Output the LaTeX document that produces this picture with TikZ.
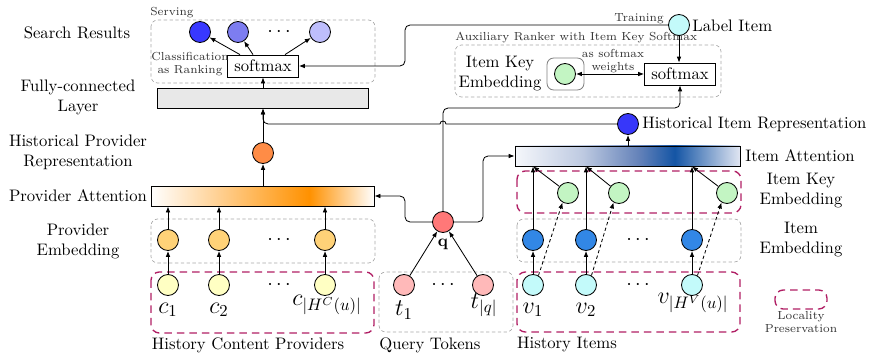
\documentclass[tikz,border=0pt]{standalone}
\usetikzlibrary{arrows.meta}
\definecolor{resA}{RGB}{56,56,255}
\definecolor{resB}{RGB}{125,125,240}
\definecolor{resC}{RGB}{190,190,252}
\definecolor{hirC}{RGB}{55,55,250}
\definecolor{hprC}{RGB}{255,140,70}
\definecolor{pembC}{RGB}{255,210,120}
\definecolor{cprovC}{RGB}{255,255,195}
\definecolor{qC}{RGB}{255,120,120}
\definecolor{tC}{RGB}{255,185,185}
\definecolor{iembC}{RGB}{50,135,230}
\definecolor{icyanC}{RGB}{195,250,250}
\definecolor{kgreenC}{RGB}{195,245,195}
\definecolor{fcC}{RGB}{232,232,232}
\definecolor{reddC}{RGB}{176,30,100}
\definecolor{provO}{RGB}{255,145,0}
\definecolor{itemB}{RGB}{20,85,165}
\definecolor{itemL}{RGB}{245,247,251}
\definecolor{itemM}{RGB}{190,202,225}
\definecolor{itemN}{RGB}{100,130,185}
\definecolor{itemR}{RGB}{225,230,242}
\pgfdeclarehorizontalshading{provshade}{100bp}{color(0bp)=(white); color(25bp)=(white); color(60.5bp)=(provO); color(75bp)=(white); color(100bp)=(white)}
\pgfdeclarehorizontalshading{itemshade}{100bp}{color(0bp)=(itemL); color(25bp)=(itemL); color(40bp)=(itemM); color(52.5bp)=(itemN); color(60.5bp)=(itemB); color(75bp)=(itemR); color(100bp)=(itemR)}
\tikzset{
  nd/.style={circle, draw, line width=0.5pt, minimum size=12.6pt, inner sep=0pt},
  arr/.style={-{Latex[length=3.6pt,width=2.8pt]}, line width=0.5pt},
  arrboth/.style={{Latex[length=3.6pt,width=2.8pt]}-{Latex[length=3.6pt,width=2.8pt]}, line width=0.5pt},
  rbox/.style={draw=reddC, line width=0.8pt, dash pattern=on 4.5pt off 3pt, rounded corners=5pt},
  gbox/.style={draw=gray!70, line width=0.4pt, dash pattern=on 2pt off 1.5pt, rounded corners=4pt},
  lbl/.style={align=center, inner sep=0pt},
  small/.style={align=center, inner sep=0pt, font=\scriptsize, text=black!80},
  smbox/.style={draw, line width=0.5pt, inner sep=3pt, minimum height=12pt, minimum width=42.6pt},
  barbox/.style={draw, line width=0.5pt, inner sep=0pt},
  dotsn/.style={inner sep=0pt, font=\large}
}
\begin{document}
\begin{tikzpicture}[x=0.6pt,y=-0.6pt]
\useasboundingbox (0,0) rectangle (873,353);

% ---------- frames ----------
\draw[gbox] (151,20) rectangle (375,83);
\draw[gbox] (455,45) rectangle (721,97);
\draw[draw=gray, line width=0.5pt, rounded corners=4pt] (547,58) rectangle (584,90);
\draw[gbox] (151,219) rectangle (375,263);
\draw[gbox] (379,272) rectangle (513,332);
\draw[gbox] (517,219) rectangle (741,262);
\draw[rbox] (151,272) rectangle (374,333);
\draw[rbox] (517,272) rectangle (740,332);
\draw[rbox] (517,171) rectangle (741,213);
\draw[rbox] (775,290) rectangle (827,309);

% ---------- left labels ----------
\node[lbl] (tsr) at (77,33) {Search Results};
\node[lbl] (tfc) at (78,97) {Fully-connected\\Layer};
\node[lbl] (thpr) at (78,152) {Historical Provider\\Representation};
\node[lbl] (tpa) at (78,196) {Provider Attention};
\node[lbl] (tpe) at (78,241) {Provider\\Embedding};

% ---------- serving ----------
\node[small, anchor=west] (tserv) at (150,13) {Serving};
\node[nd, fill=resA] (r1) at (200,32) {};
\node[nd, fill=resB] (r2) at (238,32) {};
\node[nd, fill=resC] (r3) at (320,32) {};
\node[dotsn] (rdots) at (279,32) {$\cdots$};
\node[smbox] (sm1) at (263,66) {softmax};
\node[small] (tcls) at (190,64) {Classification\\as Ranking};

\node[barbox, fill=fcC, minimum width=126.6pt, minimum height=12pt] (fc) at (262.5,98) {};
\node[nd, fill=hprC] (hpr) at (263,153) {};
\node[barbox, shading=provshade, minimum width=133.8pt, minimum height=12pt] (pa) at (262.5,196) {};

% provider embeddings
\node[nd, fill=pembC] (pe1) at (168,240) {};
\node[nd, fill=pembC] (pe2) at (219,240) {};
\node[nd, fill=pembC] (pe3) at (325,240) {};
\node[dotsn] (pedots) at (279,240) {$\cdots$};
\node[nd, fill=cprovC] (cp1) at (168,285) {};
\node[nd, fill=cprovC] (cp2) at (219,285) {};
\node[nd, fill=cprovC] (cp3) at (325,285) {};
\node[dotsn] (cpdots) at (279,285) {$\cdots$};
\node[inner sep=0pt, font=\Large] (lc1) at (168,310) {$c_1$};
\node[inner sep=0pt, font=\Large] (lc2) at (219,310) {$c_2$};
\node[inner sep=0pt, font=\Large] (lc3) at (327,305) {$c_{|H^C(u)|}$};
\node[lbl] (tcp) at (248,345) {History Content Providers};

% query
\node[nd, fill=qC] (q) at (443,222) {};
\node[inner sep=0pt] (lq) at (443,244) {$\mathbf{q}$};
\node[nd, fill=tC] (t1) at (404,285) {};
\node[nd, fill=tC] (tq) at (483,285) {};
\node[dotsn] (tdots) at (443,285) {$\cdots$};
\node[inner sep=0pt, font=\Large] (lt1) at (404,310) {$t_1$};
\node[inner sep=0pt, font=\Large] (ltq) at (484,305) {$t_{|q|}$};
\node[lbl] (tqt) at (430,345) {Query Tokens};

% items
\node[nd, fill=icyanC] (it1) at (533,285) {};
\node[nd, fill=icyanC] (it2) at (586,285) {};
\node[nd, fill=icyanC] (it3) at (692,285) {};
\node[dotsn] (itdots) at (638,285) {$\cdots$};
\node[nd, fill=iembC] (ie1) at (533,240) {};
\node[nd, fill=iembC] (ie2) at (586,240) {};
\node[nd, fill=iembC] (ie3) at (692,240) {};
\node[dotsn] (iedots) at (638,240) {$\cdots$};
\node[nd, fill=kgreenC] (gk1) at (568,193) {};
\node[nd, fill=kgreenC] (gk2) at (619,193) {};
\node[nd, fill=kgreenC] (gk3) at (727,193) {};
\node[inner sep=0pt, font=\Large] (lv1) at (533,310) {$v_1$};
\node[inner sep=0pt, font=\Large] (lv2) at (586,310) {$v_2$};
\node[inner sep=0pt, font=\Large] (lv3) at (693,303) {$v_{|H^V(u)|}$};
\node[lbl] (thi) at (567,345) {History Items};

\node[barbox, shading=itemshade, minimum width=135pt, minimum height=12pt] (ia) at (627.5,156) {};
\node[nd, fill=hirC] (hir) at (628,124) {};
\node[lbl, anchor=west] (thir) at (642,124) {Historical Item Representation};
\node[lbl, anchor=west] (tia) at (745,156) {Item Attention};
\node[lbl] (tke) at (801,191) {Item Key\\Embedding};
\node[lbl] (tie) at (801,240) {Item\\Embedding};
\node[small] (tloc) at (801,322) {Locality\\Preservation};

% auxiliary ranker
\node[small, anchor=west] (taux) at (455,38) {Auxiliary Ranker with Item Key Softmax};
\node[nd, fill=icyanC] (li) at (679,25) {};
\node[lbl, anchor=west] (tli) at (692,26) {Label Item};
\node[small, anchor=east] (ttr) at (664,19) {Training};
\node[lbl] (tike) at (500,74) {Item Key\\Embedding};
\node[nd, fill=kgreenC] (gk0) at (565,74) {};
\node[smbox] (sm2) at (680,74) {softmax};
\node[small] (tasw) at (613,61) {as softmax\\weights};

% ---------- connectors ----------
\foreach \i in {1,2,3}{
  \draw[arr] (cp\i) -- (pe\i);
  \draw[arr] (pe\i) -- (pe\i |- pa.south);
  \draw[arr] (it\i) -- (ie\i);
  \draw[arr] (ie\i) -- (ie\i |- ia.south);
  \draw[arr] (gk\i) -- (ie\i |- ia.south);
  \draw[arr, dash pattern=on 2pt off 1.5pt] (it\i.60) -- (gk\i.240);
}
\draw[arr] (hpr |- pa.north) -- (hpr);
\draw[arr] (hpr) -- (hpr |- fc.south);
\draw[arr] (sm1 |- fc.north) -- (sm1);
\draw[arr] ([xshift=-13.8pt]sm1.north) -- (r1);
\draw[arr] ([xshift=-6pt]sm1.north) -- (r2);
\draw[arr] ([xshift=13.2pt]sm1.north) -- (r3);
\draw[arr, rounded corners=3pt] (li.west) -- (405,25) -- (405,66) -- (sm1.east);
\draw[line width=0.5pt] (hir.west) -- (446,124) arc[start angle=0, end angle=-180, radius=3];
\draw[arr, rounded corners=3pt] (440,124) -- (263,124) -- (hpr |- fc.south);
\draw[arr, rounded corners=3pt] (q.north) -- (443,108) -- (680,108) -- (sm2.south);
\draw[arr, rounded corners=3pt] (q.west) -- (405,222) -- (405,196) -- (pa.east);
\draw[arr, rounded corners=3pt] (q.east) -- (483,222) -- (483,156) -- (ia.west);
\draw[arr] (t1) -- (q);
\draw[arr] (tq) -- (q);
\draw[arr] (hir |- ia.north) -- (hir);
\draw[arr] (li) -- (li |- sm2.north);
\draw[arrboth] (gk0) -- (sm2.west);
\end{tikzpicture}
\end{document}
